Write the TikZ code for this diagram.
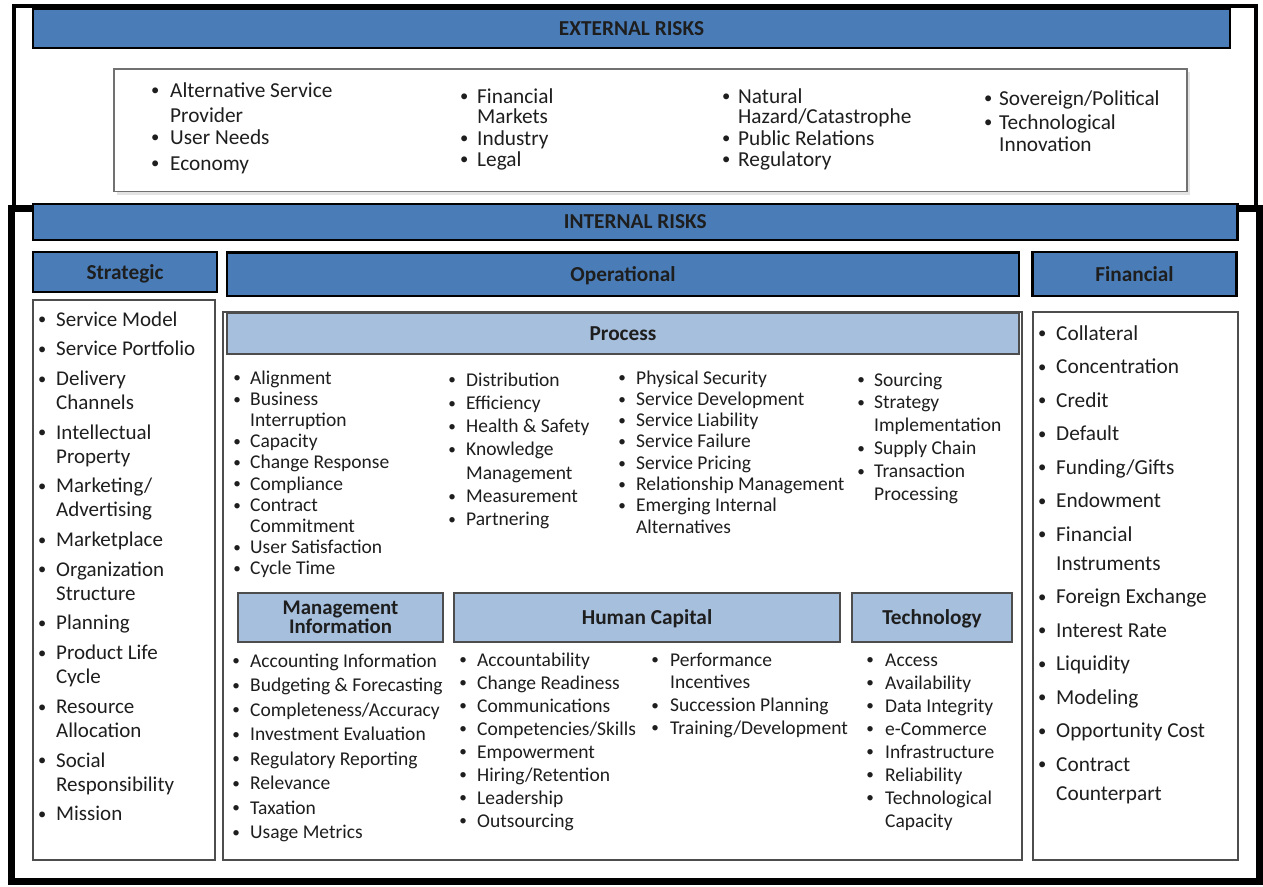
\documentclass[tikz,border=0pt]{standalone}
\usepackage{fontspec}
\usepackage{graphicx}
\setmainfont{Carlito}

\definecolor{hdrblue}{HTML}{4A7DB8}
\definecolor{subblue}{HTML}{A6BFDD}
\definecolor{txt}{HTML}{1E1E1E}
\definecolor{boxline}{HTML}{4D4D4D}

% small zero-width bullet, centred on the left edge of its column
\newcommand{\bu}{\makebox[0pt]{\raisebox{0.06em}{\scalebox{0.78}{\textbullet}}}}

\tikzset{
  majorhdr/.style={draw=black, line width=2.4pt, fill=hdrblue, text=txt,
    inner sep=0pt, text depth=0pt, font=\fontsize{21.3}{22}\selectfont\bfseries},
  minorhdr/.style={draw=boxline, line width=1.8pt, fill=subblue, text=txt,
    inner sep=0pt, text depth=0pt, align=center, font=\fontsize{21.3}{22}\selectfont\bfseries},
  listbox/.style={draw=boxline, line width=1.4pt, fill=white, inner sep=0pt},
  lst/.style={anchor=base west, inner sep=0pt, text=txt},
  small/.style={font=\fontsize{19.5}{#1}\selectfont},
  big/.style={font=\fontsize{21.3}{#1}\selectfont},
}

\begin{document}
\begin{tikzpicture}[x=1pt,y=-1pt]
\useasboundingbox (0,0) rectangle (1263,886);
\fill[white] (0,0) rectangle (1263,886);

% outer frames
\draw[line width=3.5pt] (14,6) rectangle (1256,207);
\draw[line width=7pt] (11,208) rectangle (1259.5,881.5);

% ---------- external risks ----------
\node[majorhdr, minimum width=1197pt, minimum height=39pt] (ext) at (631.5,28.75) {EXTERNAL RISKS};

\fill[gray!22] (117,72) rectangle (1190,194.5);
\node[listbox, draw=boxline!80, line width=1.2pt, minimum width=1073pt, minimum height=122.5pt] (extbox) at (650.5,130.25) {};

\node[lst, big=24] (ex1) at (155,97) {\begin{tabular}[t]{@{}l@{\hspace{15pt}}l@{}}
\bu & Alternative Service\\[1pt]
    & Provider\\[-2pt]
\bu & User Needs\\[2pt]
\bu & Economy
\end{tabular}};

\node[lst, big=21] (ex2) at (464,103) {\begin{tabular}[t]{@{}l@{\hspace{13pt}}l@{}}
\bu & Financial\\[-1pt]
    & Markets\\[1pt]
\bu & Industry\\
\bu & Legal
\end{tabular}};

\node[lst, big=21] (ex3) at (726,103) {\begin{tabular}[t]{@{}l@{\hspace{12pt}}l@{}}
\bu & Natural\\[-1pt]
    & Hazard/Catastrophe\\[1pt]
\bu & Public Relations\\
\bu & Regulatory
\end{tabular}};

\node[lst, big=23] (ex4) at (988,105) {\begin{tabular}[t]{@{}l@{\hspace{11pt}}l@{}}
\bu & Sovereign/Political\\[1pt]
\bu & Technological\\[-1pt]
    & Innovation
\end{tabular}};

% ---------- internal risks ----------
\node[majorhdr, minimum width=1204.5pt, minimum height=36pt] (int) at (635.25,222) {INTERNAL RISKS};

\node[majorhdr, minimum width=184pt, minimum height=40pt] (strat) at (125,272) {Strategic};
\node[majorhdr, minimum width=792pt, minimum height=43.5pt] (oper) at (623,274.25) {Operational};
\node[majorhdr, minimum width=204pt, minimum height=44pt] (fin) at (1134.5,274) {Financial};

\node[listbox, minimum width=182pt, minimum height=560pt] (stratbox) at (124,580) {};
\node[listbox, minimum width=799pt, minimum height=548pt] (operbox) at (622.5,586) {};
\node[listbox, minimum width=205pt, minimum height=548pt] (finbox) at (1135.5,586) {};

\node[minorhdr, minimum width=792pt, minimum height=41pt] (proc) at (623,333.5) {Process};
\node[minorhdr, minimum width=205pt, minimum height=49pt,
      font=\fontsize{20.8}{19}\selectfont\bfseries] (mi) at (340.5,617.5) {Management\\Information};
\node[minorhdr, minimum width=386pt, minimum height=49pt] (hc) at (647,617.5) {Human Capital};
\node[minorhdr, minimum width=160pt, minimum height=49pt] (tech) at (932,617.5) {Technology};

% strategic list
\node[lst, font=\fontsize{21}{24}\selectfont] (sl) at (42,326) {\begin{tabular}[t]{@{}l@{\hspace{14pt}}l@{}}
\bu & Service Model\\[5.7pt]
\bu & Service Portfolio\\[5.7pt]
\bu & Delivery\\
    & Channels\\[5.7pt]
\bu & Intellectual\\
    & Property\\[5.7pt]
\bu & Marketing/\\
    & Advertising\\[5.7pt]
\bu & Marketplace\\[5.7pt]
\bu & Organization\\
    & Structure\\[5.7pt]
\bu & Planning\\[5.7pt]
\bu & Product Life\\
    & Cycle\\[5.7pt]
\bu & Resource\\
    & Allocation\\[5.7pt]
\bu & Social\\
    & Responsibility\\[5.7pt]
\bu & Mission
\end{tabular}};

% financial list
\node[lst, big=29] (fl) at (1042,340) {\begin{tabular}[t]{@{}l@{\hspace{14pt}}l@{}}
\bu & Collateral\\[4.5pt]
\bu & Concentration\\[4.5pt]
\bu & Credit\\[4.5pt]
\bu & Default\\[4.5pt]
\bu & Funding/Gifts\\[4.5pt]
\bu & Endowment\\[4.5pt]
\bu & Financial\\
    & Instruments\\[4.5pt]
\bu & Foreign Exchange\\[4.5pt]
\bu & Interest Rate\\[4.5pt]
\bu & Liquidity\\[4.5pt]
\bu & Modeling\\[4.5pt]
\bu & Opportunity Cost\\[4.5pt]
\bu & Contract\\
    & Counterpart
\end{tabular}};

% process lists
\node[lst, small=21.2] (p1) at (237,384) {\begin{tabular}[t]{@{}l@{\hspace{13pt}}l@{}}
\bu & Alignment\\
\bu & Business\\
    & Interruption\\
\bu & Capacity\\
\bu & Change Response\\
\bu & Compliance\\
\bu & Contract\\
    & Commitment\\
\bu & User Satisfaction\\
\bu & Cycle Time
\end{tabular}};

\node[lst, small=23.3] (p2) at (452,386) {\begin{tabular}[t]{@{}l@{\hspace{14pt}}l@{}}
\bu & Distribution\\
\bu & Efficiency\\
\bu & Health \& Safety\\
\bu & Knowledge\\
    & Management\\
\bu & Measurement\\
\bu & Partnering
\end{tabular}};

\node[lst, small=21.3] (p3) at (622,384) {\begin{tabular}[t]{@{}l@{\hspace{14pt}}l@{}}
\bu & Physical Security\\
\bu & Service Development\\
\bu & Service Liability\\
\bu & Service Failure\\
\bu & Service Pricing\\
\bu & Relationship Management\\
\bu & Emerging Internal\\
    & Alternatives
\end{tabular}};

\node[lst, small=22.8] (p4) at (861,386) {\begin{tabular}[t]{@{}l@{\hspace{13pt}}l@{}}
\bu & Sourcing\\
\bu & Strategy\\
    & Implementation\\
\bu & Supply Chain\\
\bu & Transaction\\
    & Processing
\end{tabular}};

% management information list
\node[lst, small=24.5] (mil) at (236,667) {\begin{tabular}[t]{@{}l@{\hspace{14pt}}l@{}}
\bu & Accounting Information\\
\bu & Budgeting \& Forecasting\\
\bu & Completeness/Accuracy\\
\bu & Investment Evaluation\\
\bu & Regulatory Reporting\\
\bu & Relevance\\
\bu & Taxation\\
\bu & Usage Metrics
\end{tabular}};

% human capital lists
\node[lst, small=23] (hc1) at (463,666) {\begin{tabular}[t]{@{}l@{\hspace{14pt}}l@{}}
\bu & Accountability\\
\bu & Change Readiness\\
\bu & Communications\\
\bu & Competencies/Skills\\
\bu & Empowerment\\
\bu & Hiring/Retention\\
\bu & Leadership\\
\bu & Outsourcing
\end{tabular}};

\node[lst, small=22.7] (hc2) at (655,666) {\begin{tabular}[t]{@{}l@{\hspace{15pt}}l@{}}
\bu & Performance\\
    & Incentives\\
\bu & Succession Planning\\
\bu & Training/Development
\end{tabular}};

% technology list
\node[lst, small=23] (tl) at (870,666) {\begin{tabular}[t]{@{}l@{\hspace{15pt}}l@{}}
\bu & Access\\
\bu & Availability\\
\bu & Data Integrity\\
\bu & e-Commerce\\
\bu & Infrastructure\\
\bu & Reliability\\
\bu & Technological\\
    & Capacity
\end{tabular}};

\end{tikzpicture}
\end{document}
